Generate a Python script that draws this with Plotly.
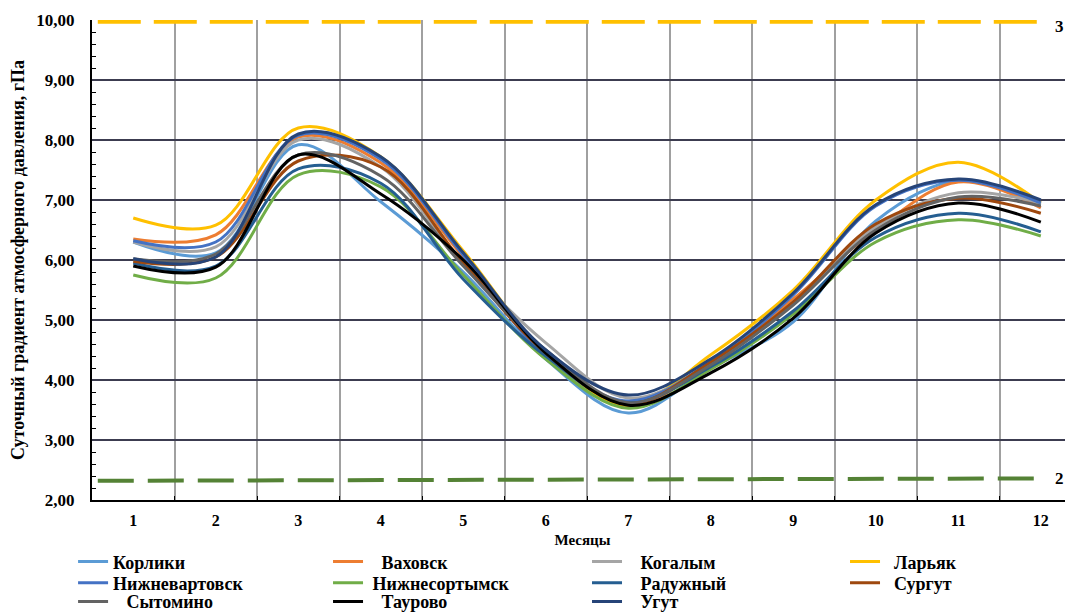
import plotly.graph_objects as go

months = list(range(1, 13))
month_labels = [str(m) for m in months]

names = ["Корлики", "Ваховск", "Когалым", "Ларьяк", "Нижневартовск", "Нижнесортымск",
         "Радужный", "Сургут", "Сытомино", "Таурово", "Угут"]
name_pads = [0, 3, 3, 2, 0, 1, 3, 2, 3, 3, 3]
colors = ["#5B9BD5", "#ED7D31", "#A5A5A5", "#FFC000", "#4472C4", "#70AD47",
          "#255E91", "#9E480E", "#636363", "#000000", "#264478"]

korliki = [6.30, 6.12, 7.92, 6.97, 5.80, 4.35, 3.45, 4.20, 4.97, 6.65, 7.32, 6.93]
vakhovsk = [6.35, 6.42, 8.05, 7.62, 6.05, 4.40, 3.55, 4.30, 5.35, 6.50, 7.30, 6.87]
kogalym = [6.30, 6.22, 8.00, 7.55, 5.95, 4.62, 3.70, 4.28, 5.30, 6.55, 7.12, 6.95]
laryak = [6.70, 6.58, 8.20, 7.72, 6.15, 4.45, 3.58, 4.42, 5.50, 7.00, 7.63, 6.95]
nizhnevartovsk = [6.32, 6.30, 8.08, 7.68, 6.08, 4.40, 3.65, 4.30, 5.42, 6.90, 7.33, 6.95]
nizhnesortymsk = [5.75, 5.70, 7.42, 7.22, 5.75, 4.35, 3.53, 4.18, 5.10, 6.30, 6.67, 6.40]
raduzhny = [5.95, 5.90, 7.52, 7.28, 5.68, 4.40, 3.62, 4.22, 5.15, 6.38, 6.78, 6.47]
surgut = [5.98, 6.05, 7.65, 7.55, 5.95, 4.45, 3.60, 4.30, 5.30, 6.60, 7.03, 6.78]
sytomino = [6.02, 6.10, 7.75, 7.40, 5.90, 4.50, 3.62, 4.25, 5.25, 6.50, 7.05, 6.90]
taurovo = [5.90, 5.88, 7.75, 7.10, 6.00, 4.45, 3.58, 4.12, 5.03, 6.45, 6.95, 6.63]
ugut = [6.02, 6.05, 8.10, 7.72, 6.12, 4.50, 3.75, 4.35, 5.45, 6.92, 7.35, 7.00]

series = [korliki, vakhovsk, kogalym, laryak, nizhnevartovsk, nizhnesortymsk,
          raduzhny, surgut, sytomino, taurovo, ugut]

ref_x = [0.57, 12.05]
ref_upper = [9.97, 9.97]
ref_lower = [2.32, 2.36]
ref_upper_label = "3"
ref_lower_label = "2"

FONT = "Liberation Serif, Times New Roman, serif"
legend_col_x = [-0.0193, 0.2406, 0.5046, 0.7676]
legend_row_y = [-0.129, -0.173, -0.212]
LEG_FONT = 18

fig = go.Figure()

fig.add_trace(go.Scatter(x=ref_x, y=ref_upper, mode="lines", showlegend=False,
                         line=dict(color="#FFC000", width=4, dash="43px,13px"), hoverinfo="skip"))
fig.add_trace(go.Scatter(x=ref_x, y=ref_lower, mode="lines", showlegend=False,
                         line=dict(color="#548235", width=4, dash="36px,14px"), hoverinfo="skip"))

legend_layouts = {}
for i, (n, p, c, s) in enumerate(zip(names, name_pads, colors, series)):
    lid = "legend" if i == 0 else f"legend{i + 1}"
    fig.add_trace(go.Scatter(x=months, y=s, name="\u00a0" * p + n, mode="lines",
                             legend=lid,
                             line=dict(color=c, width=3, shape="spline", smoothing=1)))
    legend_layouts[lid] = dict(
        orientation="v", x=legend_col_x[i % 4], y=legend_row_y[i // 4],
        xanchor="left", yanchor="middle",
        font=dict(family=FONT, size=LEG_FONT, color="#000", weight="bold"),
        itemwidth=30, tracegroupgap=0, bgcolor="rgba(0,0,0,0)")

fig.add_annotation(x=0.986, y=ref_upper[1], xref="paper", yref="y", text=ref_upper_label, showarrow=False,
                   font=dict(family=FONT, size=17, color="#000", weight="bold"),
                   xanchor="center", yanchor="middle", yshift=-5)
fig.add_annotation(x=0.986, y=ref_lower[1], xref="paper", yref="y", text=ref_lower_label, showarrow=False,
                   font=dict(family=FONT, size=17, color="#000", weight="bold"),
                   xanchor="center", yanchor="middle")

fig.update_layout(
    width=1065, height=604,
    margin=dict(l=84, r=0, t=12, b=112, autoexpand=False),
    plot_bgcolor="white", paper_bgcolor="white",
    separators=", ",
    font=dict(family=FONT, color="#000"),
    xaxis=dict(range=[0.5, 12.39], tickmode="array", tickvals=months, ticktext=month_labels,
               showgrid=False, ticks="", showline=True, linecolor="#000", linewidth=2,
               automargin=False, ticklabelstandoff=5,
               tickfont=dict(family=FONT, size=16, color="#000", weight="bold"),
               title=dict(text="Месяцы", font=dict(family=FONT, size=15, color="#000", weight="bold"),
                          standoff=6),
               minor=dict(tickmode="array", tickvals=[m + 0.5 for m in months[:-1]],
                          showgrid=True, gridcolor="#A0A0A0", gridwidth=1.5,
                          ticks="inside", ticklen=4, tickcolor="#000"),
               zeroline=False),
    yaxis=dict(range=[2, 10], dtick=1, tickformat=".2f", showgrid=True, gridcolor="#3C3C50",
               gridwidth=1.5, showline=True, linecolor="#000", linewidth=2, ticks="",
               automargin=False, ticklabelstandoff=12,
               tickfont=dict(family=FONT, size=17, color="#000", weight="bold"),
               title=dict(text="Суточный градиент атмосферного давления, гПа",
                          font=dict(family=FONT, size=18, color="#000", weight="bold"), standoff=8),
               minor=dict(dtick=0.2, ticks="inside", ticklen=4, tickcolor="#000", showgrid=False),
               zeroline=False),
    **legend_layouts,
)

fig.write_html("out.html")
